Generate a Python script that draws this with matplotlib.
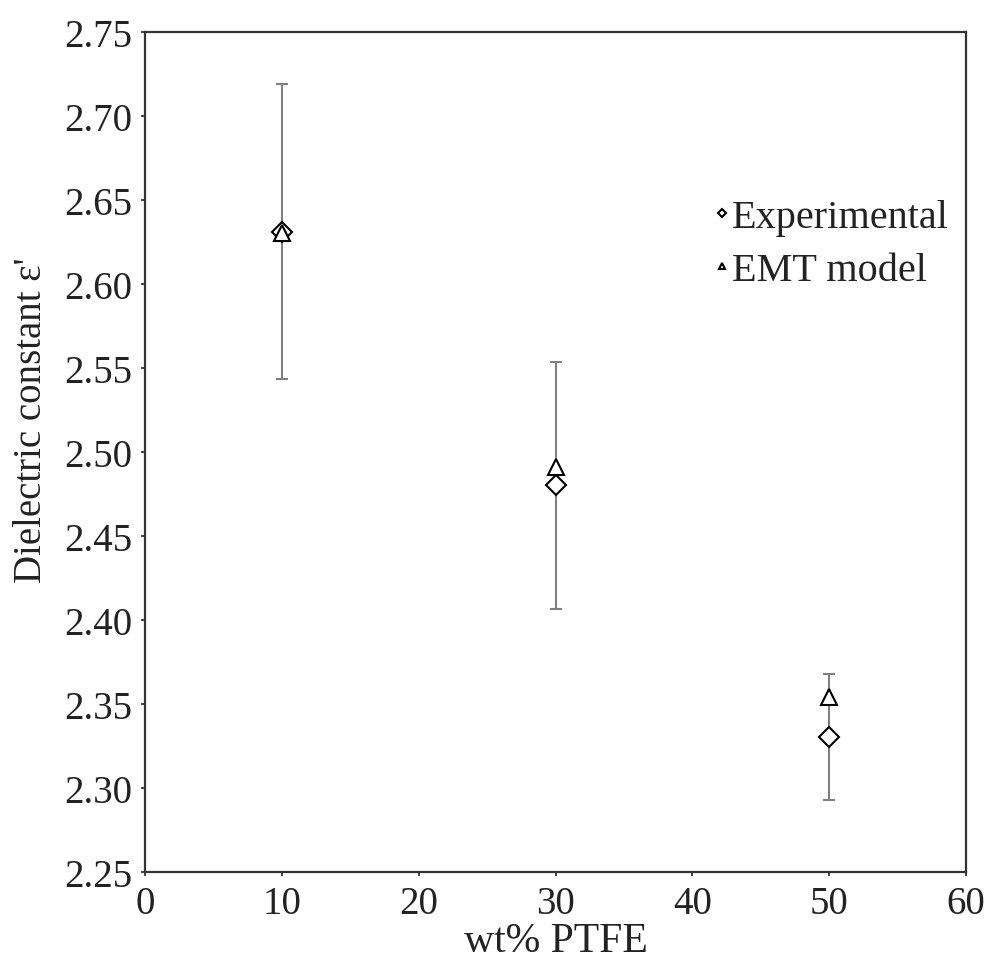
import numpy as np
import matplotlib.pyplot as plt

plt.rcParams['font.family'] = ['Liberation Serif', 'DejaVu Serif']

wt = [10, 30, 50]
experimental = [2.631, 2.480, 2.330]
exp_err = [0.088, 0.0735, 0.0375]
emt_model = [2.630, 2.491, 2.354]

fig = plt.figure(figsize=(9.92, 9.62), dpi=100)
ax = fig.add_axes([0.146, 0.093, 0.828, 0.873])

ax.errorbar(wt, experimental, yerr=exp_err, fmt='none', ecolor='#808080',
            elinewidth=1.5, capsize=4, capthick=1.5, zorder=1)
ax.plot(wt, experimental, linestyle='none', marker='D', markersize=10,
        markerfacecolor='white', markeredgecolor='black', markeredgewidth=1.5,
        label='Experimental', zorder=3)
ax.plot(wt, emt_model, linestyle='none', marker='^', markersize=12,
        markerfacecolor='white', markeredgecolor='black', markeredgewidth=1.5,
        label='EMT model', zorder=3)

ax.set_xlim(0, 60)
ax.set_ylim(2.25, 2.75)
ax.set_xticks(np.arange(0, 61, 10))
ax.set_yticks(np.arange(2.25, 2.751, 0.05))
ax.yaxis.set_major_formatter(plt.FormatStrFormatter('%.2f'))
ax.tick_params(labelsize=28, direction='out', length=3, width=1.2,
               colors='#222222')
ax.tick_params(axis='y', pad=6)
ax.tick_params(axis='x', pad=7)
for s in ax.spines.values():
    s.set_linewidth(1.6)
    s.set_color('#333333')

ax.set_xlabel('wt% PTFE', fontsize=30, labelpad=-1, color='#222222')
ax.set_ylabel("Dielectric constant ε'", fontsize=28, color='#222222')
ax.yaxis.set_label_coords(-0.115, 0.538)

ax.legend(loc='upper right', bbox_to_anchor=(0.998, 0.82), borderaxespad=0,
          frameon=False, fontsize=29, markerscale=0.4, handlelength=0.3,
          handletextpad=0.1, labelspacing=0.4, labelcolor='#222222')

fig.savefig('out.png', dpi=100)
